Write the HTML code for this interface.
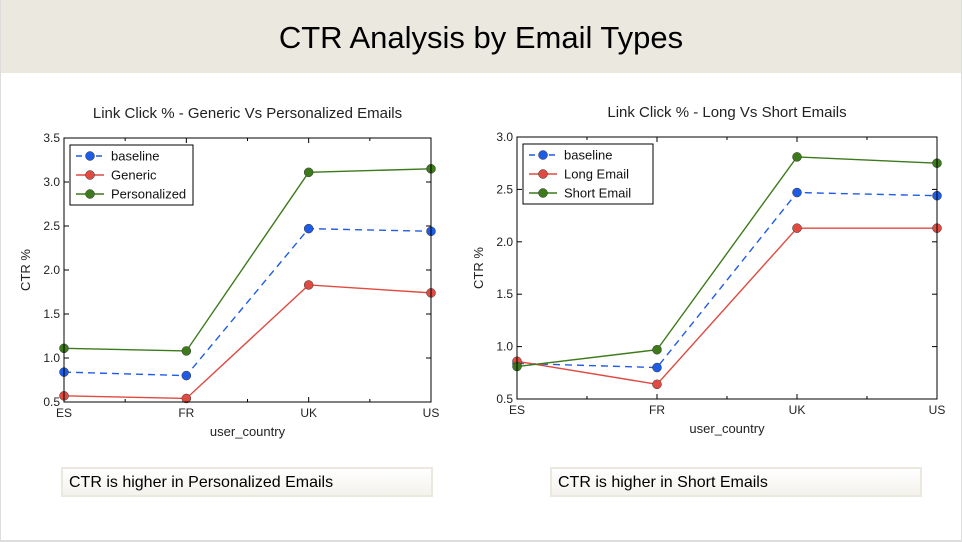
<!DOCTYPE html>
<html><head><meta charset="utf-8"><style>
body{margin:0;width:962px;height:542px;background:#fff;font-family:"Liberation Sans",sans-serif;overflow:hidden;position:relative}
#hdr{position:absolute;left:0;top:0;width:962px;height:73px;background:#ebe8df;text-align:center;font-size:31px;line-height:76px;color:#000}
.box{position:absolute;top:467px;height:30px;width:372px;background:linear-gradient(#fff,#f4f2ec);border:2px solid #ebe8df;box-sizing:border-box;font-size:16px;line-height:28px;padding-left:6px;color:#000}
#frame{position:absolute;left:0;top:0;width:960px;height:540px;border-right:2px solid #ddd;border-bottom:2px solid #ddd;border-left:1px solid #ddd;pointer-events:none}
</style></head><body>
<div id="hdr">CTR Analysis by Email Types</div>
<svg id="svg" width="962" height="542" style="position:absolute;left:0;top:0"></svg>
<div class="box" style="left:61px">CTR is higher in Personalized Emails</div>
<div class="box" style="left:550px">CTR is higher in Short Emails</div>
<div id="frame"></div>
<script>
const categories=["ES","FR","UK","US"];
const leftBaseline=[0.84,0.80,2.47,2.44];
const leftGeneric=[0.57,0.54,1.83,1.74];
const leftPersonalized=[1.11,1.08,3.11,3.15];
const leftTicks=[0.5,1.0,1.5,2.0,2.5,3.0,3.5];
const rightBaseline=[0.84,0.80,2.47,2.44];
const rightLong=[0.86,0.64,2.13,2.13];
const rightShort=[0.81,0.97,2.81,2.75];
const rightTicks=[0.5,1.0,1.5,2.0,2.5,3.0];
const NS="http://www.w3.org/2000/svg";
const svg=document.getElementById('svg');
function mk(t,a,p){const e=document.createElementNS(NS,t);for(const k in a)e.setAttribute(k,a[k]);(p||svg).appendChild(e);return e;}
function chart(o){
  const g=mk('g',{});
  
  
  const x=i=>o.x0+(o.x1-o.x0)*i/(categories.length-1);
  const y=v=>o.y1-(o.y1-o.y0)*(v-o.min)/(o.max-o.min);
  const t=mk('text',{x:(o.x0+o.x1)/2,y:o.y0-20,'text-anchor':'middle','font-size':15,fill:'#222'},g);t.textContent=o.title;
  
  
  o.ticks.forEach(v=>{
    const yy=y(v);
    mk('line',{x1:o.x0,x2:o.x0+5,y1:yy,y2:yy,stroke:'#000'},g);
    mk('line',{x1:o.x1,x2:o.x1-5,y1:yy,y2:yy,stroke:'#000'},g);
    const l=mk('text',{x:o.x0-4,y:yy+4,'text-anchor':'end','font-size':12,fill:'#222'},g);l.textContent=v.toFixed(1);
    
    
  });
  for(let i=0;i<=6;i++){const xx=o.x0+(o.x1-o.x0)*i/6;const L=i%2?3:5;
    mk('line',{x1:xx,x2:xx,y1:o.y1,y2:o.y1-L,stroke:'#000'},g);mk('line',{x1:xx,x2:xx,y1:o.y0,y2:o.y0+L,stroke:'#000'},g);}
  categories.forEach((c,i)=>{const l=mk('text',{x:x(i),y:o.y1+15,'text-anchor':'middle','font-size':12,fill:'#222'},g);l.textContent=c;
    
    });
  const xl=mk('text',{x:(o.x0+o.x1)/2,y:o.y1+34,'text-anchor':'middle','font-size':13,fill:'#222'},g);xl.textContent='user_country';
  
  
  const yl=mk('text',{x:0,y:0,'text-anchor':'middle','font-size':13,fill:'#222',transform:`translate(${o.x0-34},${(o.y0+o.y1)/2}) rotate(-90)`},g);yl.textContent='CTR %';
  
  
  o.series.forEach(s=>{
    const sg=mk('g',{},g);
    
    
    mk('polyline',{points:s.data.map((v,i)=>x(i)+','+y(v)).join(' '),fill:'none',stroke:s.c,'stroke-width':1.4,'stroke-dasharray':s.dash?'7,5':'none'},sg);
    s.data.forEach((v,i)=>{const p=mk('circle',{cx:x(i),cy:y(v),r:4.5,fill:s.c,stroke:'#333','stroke-width':0.5},sg);
      
      });
  });
  mk('rect',{x:o.x0,y:o.y0,width:o.x1-o.x0,height:o.y1-o.y0,fill:'none',stroke:'#000','stroke-width':1},g);
  const lg=mk('g',{},g);
  
  
  const lx=o.x0+6,ly=o.y0+7;
  mk('rect',{x:lx,y:ly,width:o.lw,height:60,fill:'#fff',stroke:'#000','stroke-width':1},lg);
  o.series.forEach((s,i)=>{const yy=ly+11+i*19;
    mk('line',{x1:lx+6,x2:lx+34,y1:yy,y2:yy,stroke:s.c,'stroke-width':1.4,'stroke-dasharray':s.dash?'6,4':'none'},lg);
    mk('circle',{cx:lx+20,cy:yy,r:4.5,fill:s.c,stroke:'#333','stroke-width':0.5},lg);
    const tt=mk('text',{x:lx+41,y:yy+4.5,'font-size':13,fill:'#111'},lg);tt.textContent=s.label;
    
    });
}
chart({name:'left-chart',title:'Link Click % - Generic Vs Personalized Emails',x0:64,x1:431,y0:138,y1:402,min:0.5,max:3.5,ticks:leftTicks,lw:123,
  series:[{label:'baseline',data:leftBaseline,c:'#1f5ce6',dash:true},{label:'Generic',data:leftGeneric,c:'#e04a40'},{label:'Personalized',data:leftPersonalized,c:'#3d7a1a'}]});
chart({name:'right-chart',title:'Link Click % - Long Vs Short Emails',x0:517,x1:937,y0:137,y1:399,min:0.5,max:3.0,ticks:rightTicks,lw:130,
  series:[{label:'baseline',data:rightBaseline,c:'#1f5ce6',dash:true},{label:'Long Email',data:rightLong,c:'#e04a40'},{label:'Short Email',data:rightShort,c:'#3d7a1a'}]});
</script>
</body></html>
